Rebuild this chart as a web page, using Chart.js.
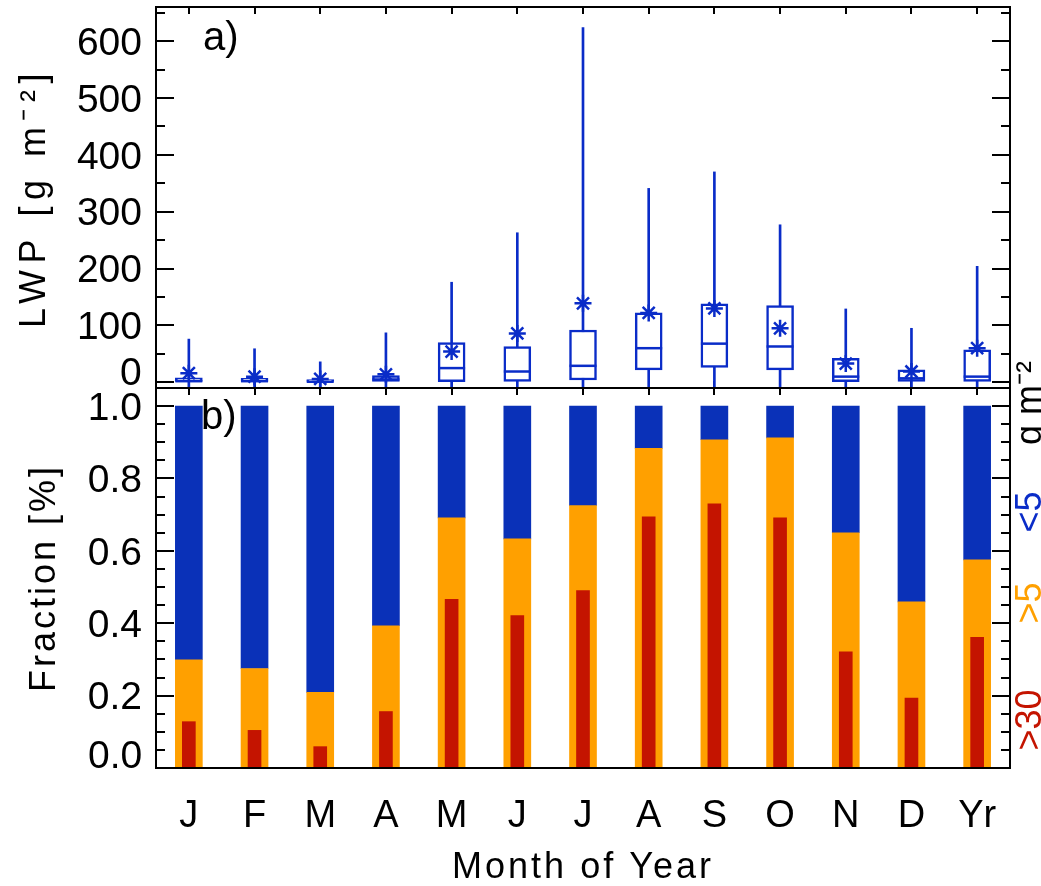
<!DOCTYPE html>
<html>
<head>
<meta charset="utf-8">
<script src="https://cdn.jsdelivr.net/npm/chart.js@4.4.1/dist/chart.umd.min.js"></script>
<style>
html,body{margin:0;padding:0;background:#fff;}
#wrap{position:relative;width:1041px;height:886px;overflow:hidden;font-family:'Liberation Sans',Arial,Helvetica,sans-serif;}
canvas{position:absolute;left:0;}
#cTop{top:0;}
#cBot{top:380px;}
.side{position:absolute;white-space:nowrap;line-height:1;font-size:36px;transform:translate(-50%,-50%) rotate(-90deg);}
.panel{position:absolute;font-size:40px;line-height:40px;color:#000;}
</style>
</head>
<body>
<div id="wrap">
<canvas id="cTop" width="1041" height="400"></canvas>
<canvas id="cBot" width="1041" height="506"></canvas>
<div class="panel" style="left:203px;top:16px">a)</div>
<div class="panel" style="left:201px;top:395px">b)</div>
<div class="side" style="left:1029px;top:403px;color:#000">g m⁻²</div>
<div class="side" style="left:1029px;top:512px;color:#0a2cc8">&lt;5</div>
<div class="side" style="left:1029px;top:603px;color:#ffa000">&gt;5</div>
<div class="side" style="left:1029px;top:720px;color:#c41400">&gt;30</div>
</div>
<script>
// ---------- data ----------
const months = ['J','F','M','A','M','J','J','A','S','O','N','D','Yr'];
// panel a) LWP box statistics [g m-2]
const lwpMin    = [-20, -20, -20, -20, -20, -20, -20, -20, -20, -20, -20, -20, -20];
const lwpQ1     = [0, 0, 0, 0, 1, 0, 4, 22, 26, 22, 1, 0, 0];
const lwpMedian = [2, 2, 1, 5, 25, 19, 29, 60, 68, 63, 10, 7, 10];
const lwpQ3     = [8, 7, 5, 12, 70, 63, 92, 122, 138, 135, 42, 22, 57];
const lwpMax    = [76, 59, 36, 87, 176, 263, 624, 341, 370, 277, 129, 95, 204];
const lwpMean   = [16, 10, 6, 14, 54, 86, 139, 122, 130, 95, 33, 19, 60];
// panel b) fractions
const fracGt5  = [0.299, 0.275, 0.209, 0.393, 0.691, 0.633, 0.725, 0.883, 0.907, 0.912, 0.650, 0.459, 0.575];
const fracGt30 = [0.128, 0.104, 0.059, 0.156, 0.466, 0.421, 0.490, 0.694, 0.730, 0.691, 0.321, 0.193, 0.361];
const fracTotal = 1.0;
// ticks
const lwpTicks = [0, 100, 200, 300, 400, 500, 600];
const lwpMinorTicks = [0, 50, 100, 150, 200, 250, 300, 350, 400, 450, 500, 550, 600, 650];
const fracTicks = [0.0, 0.2, 0.4, 0.6, 0.8, 1.0];
const fracMinorTicks = [0.0, 0.05, 0.1, 0.15, 0.2, 0.25, 0.3, 0.35, 0.4, 0.45, 0.5, 0.55, 0.6, 0.65, 0.7, 0.75, 0.8, 0.85, 0.9, 0.95, 1.0];
const dividerAt = [11.5];

// ---------- style ----------
const BLACK = '#000';
const BOXBLUE = '#0a2cc8';
const BARBLUE = '#0a31b8';
const ORANGE = '#ffa000';
const RED = '#c41400';

Chart.defaults.font.family = "'Liberation Sans', Arial, Helvetica, sans-serif";
Chart.defaults.color = BLACK;
Chart.defaults.animation = false;
Chart.defaults.plugins.legend.display = false;
Chart.defaults.plugins.tooltip.enabled = false;

function tickGrid(len) {
  return {drawOnChartArea:false, drawTicks:true, tickLength:len, color:BLACK, lineWidth:2, offset:false};
}
function fixed(list) { return s => { s.ticks = list.map(v => ({value:v})); }; }
function size(w, h) {
  return s => {
    if (w !== null) s.width = w;
    if (h !== null) s.height = h;
    s.paddingTop = 0; s.paddingBottom = 0; s.paddingLeft = 0; s.paddingRight = 0;
  };
}
function spacingPlugin(px) {
  return {
    id:'titleSpacing',
    beforeDraw(chart){ chart.ctx.letterSpacing = px + 'px'; },
    beforeDatasetsDraw(chart){ chart.ctx.letterSpacing = '0px'; }
  };
}

function frameScales(yMin, yMax, major, minor, fmt, zeroShift, zeroPad, title, titlePad, xBottom, topTick) {
  return {
    x: xBottom,
    xTop: { type:'category', position:'top', offset:true, grid:tickGrid(-7),
            border:{color:BLACK, width:2, z:1}, ticks:{display:false},
            afterFit:size(null, topTick) },
    xDiv: { type:'linear', position:'bottom', weight:0, min:-0.5, max:12.5, bounds:'data',
            afterBuildTicks:fixed(dividerAt),
            grid:{drawOnChartArea:true, drawTicks:false, color:BLACK, lineWidth:2},
            border:{display:false}, ticks:{display:false}, afterFit:size(null, 0) },
    y: { type:'linear', position:'left', weight:1, min:yMin, max:yMax, bounds:'data',
         afterBuildTicks:fixed(major), grid:tickGrid(-18), border:{color:BLACK, width:2, z:1},
         ticks:{font:{size:39}, padding:32, labelOffset:3, autoSkip:false, z:1,
                callback:v => v === 0 ? '' : fmt(v)},
         title:{display:true, text:title, font:{size:36}, padding:{top:titlePad, bottom:0}},
         afterFit:size(156, null) },
    yMinor: { type:'linear', position:'left', weight:0, min:yMin, max:yMax, bounds:'data',
         afterBuildTicks:fixed(minor), grid:tickGrid(-9), border:{display:false},
         ticks:{font:{size:39}, mirror:true, padding:zeroPad, labelOffset:zeroShift, autoSkip:false, z:1,
                callback:v => v === 0 ? fmt(0) : ''},
         afterFit:size(0, null) },
    yR: { type:'linear', position:'right', weight:1, min:yMin, max:yMax, bounds:'data',
         afterBuildTicks:fixed(major), grid:tickGrid(-18), border:{color:BLACK, width:2, z:1},
         ticks:{display:false}, afterFit:size(31, null) },
    yRMinor: { type:'linear', position:'right', weight:0, min:yMin, max:yMax, bounds:'data',
         afterBuildTicks:fixed(minor), grid:tickGrid(-9), border:{display:false},
         ticks:{display:false}, afterFit:size(0, null) }
  };
}

// ---------- panel a) ----------
const topX = { type:'category', position:'bottom', offset:true, weight:1, grid:tickGrid(-7),
               border:{color:BLACK, width:2, z:1}, ticks:{display:false},
               afterFit:size(null, 12) };
new Chart(document.getElementById('cTop'), {
  type:'bar',
  data:{
    labels:months,
    datasets:[
      { type:'line', label:'Mean', data:lwpMean, showLine:false, pointStyle:'star',
        pointRadius:8.5, pointBorderWidth:2.5, pointBorderColor:BOXBLUE, pointBackgroundColor:BOXBLUE,
        order:0, xAxisID:'x', yAxisID:'y' },
      { type:'line', label:'Median', data:lwpMedian, showLine:false, pointStyle:'line',
        pointRadius:13.5, pointBorderWidth:2.5, pointBorderColor:BOXBLUE,
        order:1, xAxisID:'x', yAxisID:'y' },
      { type:'bar', label:'Quartiles', data:months.map((_, i) => [lwpQ1[i], lwpQ3[i]]),
        backgroundColor:'#fff', borderColor:BOXBLUE, borderWidth:2.5, borderSkipped:false,
        barThickness:27, grouped:false, order:2, xAxisID:'x', yAxisID:'y' },
      { type:'bar', label:'Range', data:months.map((_, i) => [lwpMin[i], lwpMax[i]]),
        backgroundColor:BOXBLUE, borderWidth:0, barThickness:2, grouped:false,
        order:3, xAxisID:'x', yAxisID:'y' }
    ]
  },
  options:{
    responsive:false, devicePixelRatio:1,
    layout:{padding:0, autoPadding:false},
    scales:frameScales(-10, 660, lwpTicks, lwpMinorTicks, v => String(v), -8, -36,
                       'LWP [g m⁻²]', 13, topX, 7)
  },
  plugins:[spacingPlugin(6.5)]
});

// ---------- panel b) ----------
const botX = { type:'category', position:'bottom', offset:true, weight:1, grid:tickGrid(-8),
               border:{color:BLACK, width:2, z:1},
               ticks:{display:true, font:{size:38}, padding:34, autoSkip:false, maxRotation:0, z:1},
               title:{display:true, text:'Month of Year', font:{size:36, lineHeight:1.0}, padding:0},
               afterFit:size(null, 118) };
new Chart(document.getElementById('cBot'), {
  type:'bar',
  data:{
    labels:months,
    datasets:[
      { label:'>30 g m⁻²', data:fracGt30, backgroundColor:RED, borderWidth:0,
        barThickness:13, grouped:false, order:0, xAxisID:'x', yAxisID:'y' },
      { label:'>5 g m⁻²', data:fracGt5, backgroundColor:ORANGE, borderWidth:0,
        barThickness:27, grouped:false, order:1, xAxisID:'x', yAxisID:'y' },
      { label:'<5 g m⁻²', data:months.map((_, i) => [fracGt5[i], fracTotal]), backgroundColor:BARBLUE,
        borderWidth:0, barThickness:27, grouped:false, order:2, xAxisID:'x', yAxisID:'y' }
    ]
  },
  options:{
    responsive:false, devicePixelRatio:1,
    layout:{padding:0, autoPadding:false},
    scales:frameScales(0, 1.05, fracTicks, fracMinorTicks, v => v.toFixed(1), -11, -68,
                       'Fraction [%]', 23, botX, 8)
  },
  plugins:[spacingPlugin(3)]
});
</script>
</body>
</html>
